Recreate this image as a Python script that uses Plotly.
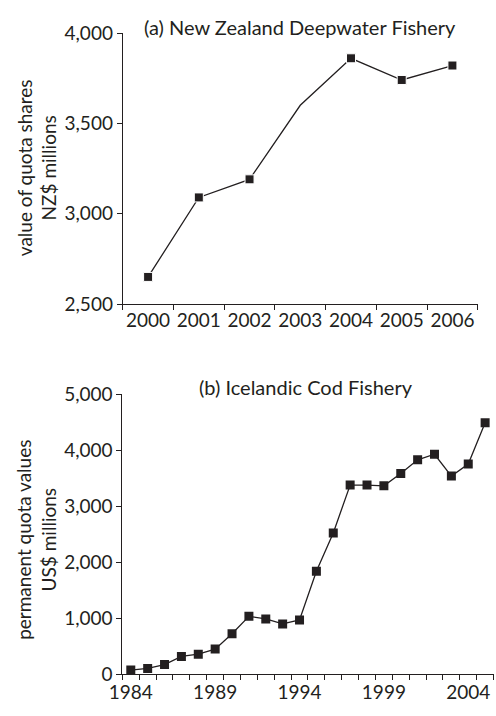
import plotly.graph_objects as go

# (a) New Zealand deepwater fishery: value of quota shares, NZ$ millions
nz_years = [2000, 2001, 2002, 2003, 2004, 2005, 2006]
nz_values = [2650, 3090, 3190, 3600, 3860, 3740, 3820]
nz_has_marker = [True, True, True, False, True, True, True]
nz_yticks = [2500, 3000, 3500, 4000]

# (b) Icelandic cod fishery: permanent quota values, US$ millions
ic_years = list(range(1984, 2006))
ic_values = [75, 105, 175, 320, 360, 450, 725, 1035, 990, 900, 970,
             1840, 2525, 3380, 3380, 3365, 3585, 3830, 3930, 3540, 3755, 4490]
ic_xlabels = [1984, 1989, 1994, 1999, 2004]
ic_yticks = [0, 1000, 2000, 3000, 4000, 5000]

INK = "#231f20"
FONT = "Lato"
W, H = 496, 716
MARKER = 9


def px_x(v):
    return v / W


def px_y(v):
    return 1 - v / H


fig = go.Figure()

fig.add_trace(go.Scatter(
    x=nz_years, y=nz_values, mode="lines+markers",
    line=dict(color=INK, width=1.3),
    marker=dict(symbol="square", color=INK, opacity=1,
                size=[MARKER if m else 0 for m in nz_has_marker]),
    xaxis="x", yaxis="y", showlegend=False,
))

fig.add_trace(go.Scatter(
    x=ic_years, y=ic_values, mode="lines+markers",
    line=dict(color=INK, width=1.3),
    marker=dict(symbol="square", color=INK, size=MARKER, opacity=1),
    xaxis="x2", yaxis="y2", showlegend=False,
))

tickfont = dict(family=FONT, size=19, color=INK)
axis_common = dict(
    showline=True, linecolor=INK, linewidth=1,
    showgrid=False, zeroline=False, tickfont=tickfont,
)


def year_axis(first, last, labels, domain, anchor, standoff):
    # labels sit on the years, tick marks fall on the boundaries between years
    return dict(
        **axis_common,
        domain=domain, anchor=anchor,
        range=[first - 0.5, last + 0.5],
        tickmode="array", tickvals=labels, ticktext=[str(v) for v in labels],
        ticks="", ticklabelstandoff=standoff,
        minor=dict(ticks="outside", ticklen=5, tickwidth=1, tickcolor=INK,
                   tick0=first - 0.5, dtick=1, showgrid=False),
    )


def value_axis(ticks, domain, anchor):
    return dict(
        **axis_common,
        domain=domain, anchor=anchor,
        range=[ticks[0], ticks[-1]],
        tickmode="array", tickvals=ticks, tickformat=",d",
        ticks="outside", ticklen=5, tickwidth=1, tickcolor=INK,
    )


fig.update_layout(
    width=W, height=H,
    margin=dict(l=0, r=0, t=0, b=0),
    paper_bgcolor="white", plot_bgcolor="white",
    font=dict(family=FONT, color=INK),
    xaxis=year_axis(nz_years[0], nz_years[-1], nz_years,
                    [px_x(112.7), px_x(477.3)], "y", -1),
    yaxis=value_axis(nz_yticks, [px_y(301.7), px_y(21.7)], "x"),
    xaxis2=year_axis(ic_years[0], ic_years[-1], ic_xlabels,
                     [px_x(112.3), px_x(493.5)], "y2", 1),
    yaxis2=value_axis(ic_yticks, [px_y(684.3), px_y(395)], "x2"),
)

annotations = [
    dict(text="(a) New Zealand Deepwater Fishery", x=px_x(294.5), y=px_y(15),
         font=dict(size=20)),
    dict(text="(b) Icelandic Cod Fishery", x=px_x(301), y=px_y(387),
         font=dict(size=20)),
    dict(text="value of quota shares<br>NZ$ millions", x=px_x(24), y=px_y(161),
         textangle=-90, font=dict(size=19)),
    dict(text="permanent quota values<br>US$ millions", x=px_x(24), y=px_y(545),
         textangle=-90, font=dict(size=19)),
]
for a in annotations:
    fig.add_annotation(xref="paper", yref="paper", showarrow=False,
                       xanchor="center", yanchor="middle", **a)

fig.write_html("out.html", post_script="document.body.style.margin='0px';")
